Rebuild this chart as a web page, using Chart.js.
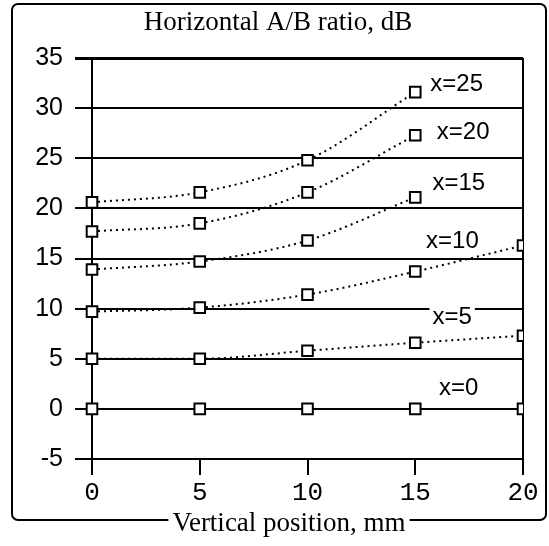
<!DOCTYPE html>
<html>
<head>
<meta charset="utf-8">
<script src="https://cdn.jsdelivr.net/npm/chart.js@4"></script>
<style>
  html, body { margin: 0; padding: 0; background: #fff; }
  #wrap { width: 549px; height: 546px; }
</style>
</head>
<body>
<div id="wrap"><canvas id="abRatioChart"></canvas></div>
<script>
// Vertical position (mm) where the measurements were taken
const positions = [0, 5, 10, 15, 20];

// Horizontal A/B ratio (dB), one series per horizontal offset x
const ratioX0  = [0, 0, 0, 0, 0];
const ratioX5  = [5.0, 5.0, 5.8, 6.6, 7.3];
const ratioX10 = [9.7, 10.1, 11.4, 13.7, 16.3];
const ratioX15 = [13.9, 14.7, 16.8, 21.1];
const ratioX20 = [17.7, 18.5, 21.6, 27.3];
const ratioX25 = [20.6, 21.6, 24.8, 31.6];

const seriesNames = ['x=0', 'x=5', 'x=10', 'x=15', 'x=20', 'x=25'];
const seriesValues = [ratioX0, ratioX5, ratioX10, ratioX15, ratioX20, ratioX25];

// where each series label sits, in data units (left edge, middle)
const labelAt = [
    [16.1, 2.0], [15.8, 9.1], [15.5, 16.7],
    [15.8, 22.5], [16.0, 27.6], [15.7, 32.4]
];

const titleText = 'Horizontal A/B ratio, dB';
const xTitleText = 'Vertical position, mm';

function toPoints(values) {
    return values.map(function(v, i) {
        return { x: positions[i], y: v };
    });
}

const datasets = seriesValues.map(function(values, i) {
    return {
        label: seriesNames[i],
        data: toPoints(values),
        borderColor: '#000',
        borderWidth: 2,
        borderDash: i === 0 ? [] : [2, 4],
        cubicInterpolationMode: 'monotone',
        pointStyle: 'rect',
        pointRadius: 7.5,
        pointBorderWidth: 2,
        pointBorderColor: '#000',
        pointBackgroundColor: '#fff',
        clip: { left: 12, top: 12, right: 0, bottom: 12 }
    };
});

// Frame, titles and series labels
const decorations = {
    id: 'decorations',
    afterDraw: function(chart) {
        const ctx = chart.ctx;
        const xs = chart.scales.x;
        const ys = chart.scales.y;

        ctx.save();
        ctx.fillStyle = '#000';
        ctx.textBaseline = 'middle';

        // series labels, with a white box so grid lines break behind them
        ctx.font = '24px "Liberation Sans", Arial, sans-serif';
        ctx.textAlign = 'left';
        labelAt.forEach(function(p, i) {
            const px = xs.getPixelForValue(p[0]);
            const py = ys.getPixelForValue(p[1]);
            const w = ctx.measureText(seriesNames[i]).width;
            ctx.fillStyle = '#fff';
            ctx.fillRect(px - 3, py - 10, w + 6, 20);
            ctx.fillStyle = '#000';
            ctx.fillText(seriesNames[i], px, py);
        });

        // chart title
        ctx.font = '27px "Liberation Serif", "Times New Roman", serif';
        ctx.textAlign = 'center';
        ctx.fillText(titleText, 278, 23);

        // x axis title, breaking the bottom of the frame
        const xtCenter = 289;
        const xtWidth = ctx.measureText(xTitleText).width;
        ctx.fillText(xTitleText, xtCenter, 524);

        // outer frame with rounded corners
        const L = 12, T = 4, R = 546, B = 520, r = 6;
        const gapL = xtCenter - xtWidth / 2 - 4;
        const gapR = xtCenter + xtWidth / 2 + 4;
        ctx.strokeStyle = '#000';
        ctx.lineWidth = 2;
        ctx.beginPath();
        ctx.moveTo(gapL, B);
        ctx.lineTo(L + r, B);
        ctx.arcTo(L, B, L, B - r, r);
        ctx.lineTo(L, T + r);
        ctx.arcTo(L, T, L + r, T, r);
        ctx.lineTo(R - r, T);
        ctx.arcTo(R, T, R, T + r, r);
        ctx.lineTo(R, B - r);
        ctx.arcTo(R, B, R - r, B, r);
        ctx.lineTo(gapR, B);
        ctx.stroke();
        ctx.restore();
    }
};

const ctx = document.getElementById('abRatioChart').getContext('2d');
new Chart(ctx, {
    type: 'line',
    data: { datasets: datasets },
    plugins: [decorations],
    options: {
        responsive: true,
        maintainAspectRatio: false,
        animation: false,
        layout: {
            padding: { left: 0, right: 26, top: 58, bottom: 0 }
        },
        plugins: {
            legend: { display: false },
            title: { display: false },
            tooltip: { enabled: false }
        },
        scales: {
            x: {
                type: 'linear',
                min: 0,
                max: 20,
                afterFit: function(scale) { scale.height = 87; },
                ticks: {
                    stepSize: 5,
                    color: '#000',
                    padding: 3,
                    font: { family: '"Liberation Mono", "Courier New", monospace', size: 26 }
                },
                grid: {
                    color: function(c) {
                        return (c.tick && (c.tick.value === 0 || c.tick.value === 20)) ? '#000' : 'rgba(0,0,0,0)';
                    },
                    tickColor: '#000',
                    lineWidth: 2,
                    tickLength: 16
                },
                border: { display: false }
            },
            y: {
                min: -5,
                max: 35,
                afterFit: function(scale) { scale.width = 92; },
                ticks: {
                    stepSize: 5,
                    color: '#000',
                    padding: 12,
                    font: { family: '"Liberation Sans", Arial, sans-serif', size: 25 }
                },
                grid: {
                    color: '#000',
                    lineWidth: function(c) {
                        return (c.tick && c.tick.value === 35) ? 3 : 2;
                    },
                    tickLength: 17
                },
                border: { display: true, color: '#000', width: 2 }
            }
        }
    }
});
</script>
</body>
</html>
